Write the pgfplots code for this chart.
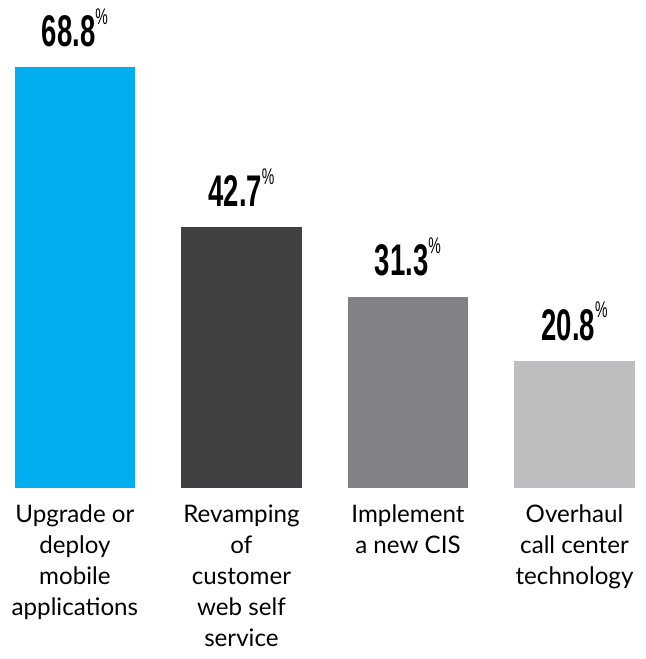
\documentclass[border=0pt]{standalone}
\usepackage{pgfplots}
\pgfplotsset{compat=1.18}
\usepackage{fontspec}
\setmainfont{Lato}
\newfontfamily\numfont{Liberation Sans}

\definecolor{barcyan}{HTML}{00AEEF}
\definecolor{bardark}{HTML}{414042}
\definecolor{barmid}{HTML}{808285}
\definecolor{barlight}{HTML}{BCBEC0}

\newcommand{\vallabel}{%
  \scalebox{0.62}[1]{\numfont\bfseries\fontsize{45}{45}\selectfont
    \pgfmathprintnumber[fixed,fixed zerofill,precision=1]{\pgfplotspointmeta}%
    \raisebox{0.95ex}{\fontsize{23}{23}\selectfont\mdseries\%}}}

\begin{document}
\begin{tikzpicture}
\begin{axis}[
    scale only axis,
    width=655pt, height=491pt,
    xmin=-0.4497, xmax=3.426,
    ymin=0, ymax=79.12,
    axis line style={draw=none},
    tick style={draw=none},
    ybar, bar shift=0pt, bar width=0.722,
    xtick={0,1,2,3},
    xticklabels={
      {Upgrade or\\deploy\\mobile\\applications},
      {Revamping\\of\\customer\\web self\\service\strut},
      {Implement\\a new CIS},
      {Overhaul\\call center\\technology}},
    xticklabel style={align=center, anchor=north, yshift=-9pt,
      font=\fontsize{24.5}{31.5}\selectfont},
    ytick=\empty,
    nodes near coords=\vallabel,
    nodes near coords style={anchor=south, yshift=17pt},
    /pgf/number format/assume math mode=true,
    every axis plot/.append style={draw=none},
]
\addplot[fill=barcyan] coordinates {(0,68.8)};
\addplot[fill=bardark] coordinates {(1,42.7)};
\addplot[fill=barmid] coordinates {(2,31.3)};
\addplot[fill=barlight] coordinates {(3,20.8)};
\end{axis}
\end{tikzpicture}
\end{document}
